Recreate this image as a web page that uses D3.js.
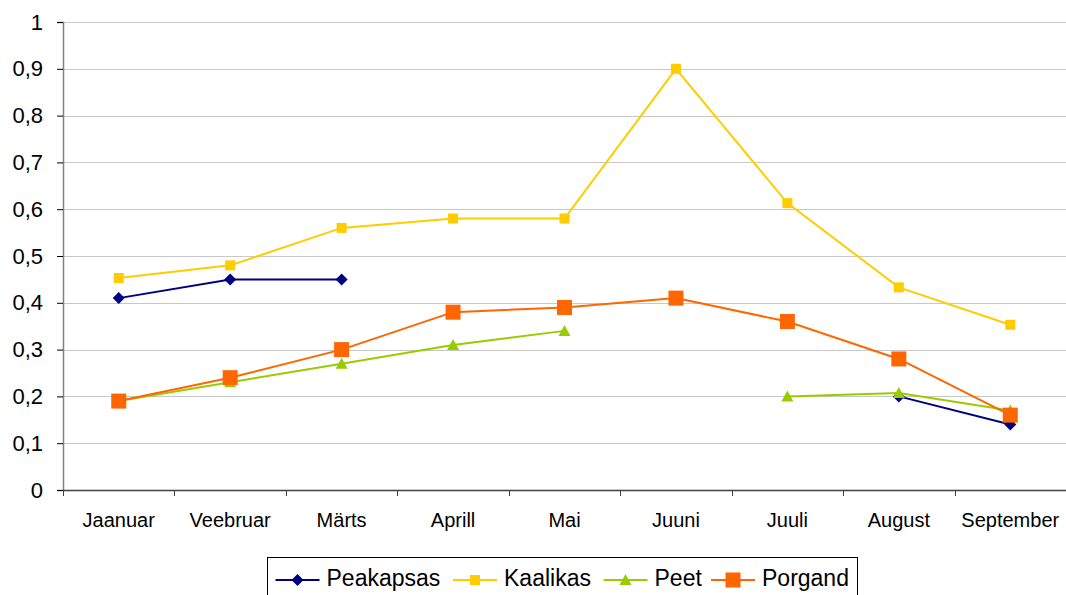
<!DOCTYPE html>
<html>
<head>
<meta charset="utf-8">
<script src="https://cdn.jsdelivr.net/npm/d3@7"></script>
<style>
  body { margin: 0; background: #fff; }
  text { font-family: "Liberation Sans", Arial, sans-serif; }
</style>
</head>
<body>
<div id="chart"></div>
<script>
var months = ["Jaanuar", "Veebruar", "Märts", "Aprill", "Mai", "Juuni", "Juuli", "August", "September"];
var peakapsas = [0.41, 0.45, 0.45, null, null, null, null, 0.20, 0.14];
var kaalikas = [0.453, 0.48, 0.56, 0.58, 0.58, 0.90, 0.613, 0.433, 0.353];
var peet = [0.19, 0.23, 0.27, 0.31, 0.34, null, 0.20, 0.207, 0.17];
var porgand = [0.19, 0.24, 0.30, 0.38, 0.39, 0.41, 0.36, 0.28, 0.16];
var yTicks = [0, 0.1, 0.2, 0.3, 0.4, 0.5, 0.6, 0.7, 0.8, 0.9, 1];

var series = [
  {name: "Peakapsas", values: peakapsas, color: "#000080", marker: "diamond"},
  {name: "Kaalikas", values: kaalikas, color: "#FFCC00", marker: "square"},
  {name: "Peet", values: peet, color: "#99CC00", marker: "triangle"},
  {name: "Porgand", values: porgand, color: "#FF6600", marker: "bigsquare"}
];

var W = 1066, H = 595;
var margin = {top: 22, right: 0, bottom: 105, left: 63},
    width = W - margin.left - margin.right,
    height = H - margin.top - margin.bottom;

var svg = d3.select("#chart").append("svg")
    .attr("width", W)
    .attr("height", H)
  .append("g")
    .attr("transform", "translate(" + margin.left + "," + margin.top + ")");

var x = d3.scaleBand().domain(months).range([0, width]);
var y = d3.scaleLinear().domain([0, 1]).range([height, 0]);

// gridlines
svg.selectAll(".grid").data(yTicks.slice(1)).enter().append("line")
  .attr("x1", 0).attr("x2", width)
  .attr("y1", function(d){ return Math.round(y(d)) + 0.5 })
  .attr("y2", function(d){ return Math.round(y(d)) + 0.5 })
  .attr("stroke", "#c8c8c8").attr("stroke-width", 1);

// y axis
var yAxis = svg.append("g")
  .call(d3.axisLeft(y).tickValues(yTicks).tickSize(6).tickPadding(14)
    .tickFormat(function(d){ return String(d).replace(".", ","); }));
yAxis.select(".domain").attr("stroke", "#808080").attr("stroke-width", 1.5);
yAxis.selectAll("line").attr("stroke", "#000");
yAxis.selectAll("text").attr("font-size", 22).attr("fill", "#000");

// x axis
var xAxisG = svg.append("g").attr("transform", "translate(0," + height + ")");
xAxisG.append("line").attr("x1", 0).attr("x2", width).attr("y1", 0.5).attr("y2", 0.5)
  .attr("stroke", "#404040").attr("stroke-width", 1.5);
xAxisG.selectAll(".xt").data(months.concat(["end"])).enter().append("line")
  .attr("x1", function(d, i){ return Math.round(i * x.bandwidth()) + 0.5 })
  .attr("x2", function(d, i){ return Math.round(i * x.bandwidth()) + 0.5 })
  .attr("y1", 0).attr("y2", 6)
  .attr("stroke", "#404040");
xAxisG.selectAll(".xl").data(months).enter().append("text")
  .attr("x", function(d){ return x(d) + x.bandwidth() / 2 })
  .attr("y", 37)
  .attr("text-anchor", "middle")
  .attr("font-size", 20)
  .text(function(d){ return d });

function cx(i) { return x(months[i]) + x.bandwidth() / 2; }

var line = d3.line()
  .defined(function(d){ return d != null })
  .x(function(d, i){ return cx(i) })
  .y(function(d){ return y(d) });

function drawMarker(g, type, color, px, py) {
  if (type === "diamond") {
    g.append("path").attr("d", "M" + px + "," + (py - 6) + "L" + (px + 6) + "," + py + "L" + px + "," + (py + 6) + "L" + (px - 6) + "," + py + "Z")
      .attr("fill", color);
  } else if (type === "square") {
    g.append("rect").attr("x", px - 5).attr("y", py - 5).attr("width", 10).attr("height", 10).attr("fill", color);
  } else if (type === "triangle") {
    g.append("path").attr("d", "M" + px + "," + (py - 6) + "L" + (px + 6) + "," + (py + 5) + "L" + (px - 6) + "," + (py + 5) + "Z")
      .attr("fill", color);
  } else {
    g.append("rect").attr("x", px - 7.5).attr("y", py - 7.5).attr("width", 15).attr("height", 15).attr("fill", color);
  }
}

series.forEach(function(s){
  svg.append("path")
    .datum(s.values)
    .attr("d", line)
    .attr("fill", "none")
    .attr("stroke", s.color)
    .attr("stroke-width", 2);
  var mg = svg.append("g");
  s.values.forEach(function(v, i){
    if (v == null) return;
    drawMarker(mg, s.marker, s.color, cx(i), y(v));
  });
});

// legend
var legend = d3.select("svg").append("g").attr("transform", "translate(267,557)");
legend.append("rect").attr("x", 0.5).attr("y", 0.5).attr("width", 590).attr("height", 40)
  .attr("fill", "#fff").attr("stroke", "#000").attr("stroke-width", 1);
var legendX = [8.5, 186, 336.5, 444];
series.forEach(function(s, i){
  var lg = legend.append("g").attr("transform", "translate(" + legendX[i] + ",0)");
  lg.append("line").attr("x1", 0).attr("x2", 44).attr("y1", 23).attr("y2", 23)
    .attr("stroke", s.color).attr("stroke-width", 2);
  drawMarker(lg, s.marker, s.color, 22, 23);
  lg.append("text").attr("x", 51).attr("y", 29).attr("font-size", 23).text(s.name);
});
</script>
</body>
</html>
